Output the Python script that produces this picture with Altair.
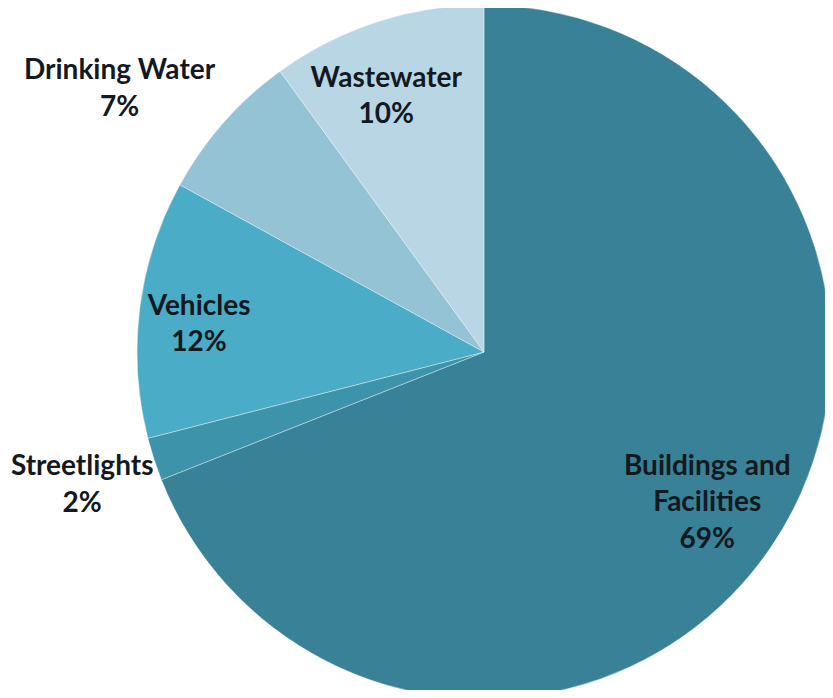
import altair as alt
import pandas as pd

# Data
categories = ["Buildings and Facilities", "Streetlights", "Vehicles", "Drinking Water", "Wastewater"]
shares = [69, 2, 12, 7, 10]
label_lines = ["Buildings and\nFacilities\n69%", "Streetlights\n2%", "Vehicles\n12%", "Drinking Water\n7%", "Wastewater\n10%"]

# Styling / layout (label anchor = first text line)
colors = ["#388196", "#3d94aa", "#4aacc6", "#93c3d4", "#b8d6e3"]
label_radius = [251, 418, 288.5, 460, 290]
label_shift_deg = [-7.0, 2.0, 1.8, -3.8, -1.7]

df = pd.DataFrame({
    "category": categories,
    "share": shares,
    "label": label_lines,
    "order": list(range(len(categories))),
    "lr": label_radius,
    "shift": label_shift_deg,
})

cx, cy, R = 476, 344, 347

base = alt.Chart(df)

pie = base.mark_arc(outerRadius=R, stroke="#ffffff", strokeWidth=0.6, strokeOpacity=0.6).encode(
    theta=alt.Theta("share:Q", stack=True),
    color=alt.Color("category:N", scale=alt.Scale(domain=categories, range=colors), legend=None),
    order=alt.Order("order:Q"),
    x=alt.value(cx),
    y=alt.value(cy),
)

labels = base.transform_window(
    cum="sum(share)", sort=[alt.SortField("order")]
).transform_joinaggregate(
    total="sum(share)"
).transform_calculate(
    ang="((datum.cum - datum.share / 2) / datum.total * 360 + datum.shift) * PI / 180",
).mark_text(
    font="Lato", fontWeight="bold", fontSize=28, color="#13191f",
    align="center", baseline="middle", lineHeight=36.5, lineBreak="\n",
).encode(
    theta=alt.Theta("ang:Q", scale=None, stack=None),
    radius=alt.Radius("lr:Q", scale=None),
    text=alt.Text("label:N"),
    x=alt.value(cx),
    y=alt.value(cy),
)

chart = alt.layer(pie, labels).properties(
    width=817, height=682, padding=0, autosize=alt.AutoSizeParams(type="none")
).configure_view(stroke=None)

chart.save("out.html", embed_options={"renderer": "svg", "actions": False})
